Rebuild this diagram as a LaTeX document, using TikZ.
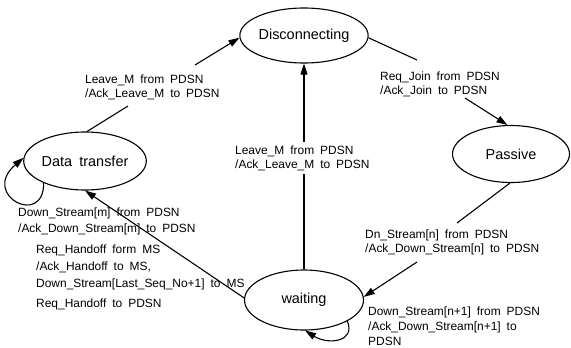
\documentclass[tikz,border=0pt]{standalone}
\usepackage{fontspec}
\setmainfont{Liberation Sans}[WordSpace=1.8]
\usetikzlibrary{arrows.meta,shapes.geometric}
\begin{document}
\begin{tikzpicture}[x=1bp,y=-1bp,
  state/.style={draw,line width=1.1bp,ellipse,inner sep=0pt,font=\fontsize{14.5}{16}\selectfont},
  lbl/.style={font=\fontsize{12}{14}\selectfont,align=left,inner sep=0pt,anchor=west},
  edge/.style={line width=1.1bp},
  tip/.style={-{Triangle[length=11bp,width=7bp]}}]
\useasboundingbox (0,0) rectangle (571,347);
% states
\node[state,minimum width=122bp,minimum height=55bp] (disc) at (304,35.5) {Disconnecting};
\node[state,minimum width=120bp,minimum height=58bp] (dt) at (85,161) {Data transfer};
\node[state,minimum width=117bp,minimum height=57bp] (passive) at (511,154) {Passive};
\node[state,minimum width=119bp,minimum height=60bp] (waiting) at (304,300) {waiting};
% labels
\node[lbl] (l1) at (85,87) {Leave\_M from PDSN\\/Ack\_Leave\_M to PDSN};
\node[lbl] (l2) at (380,84.5) {Req\_Join from PDSN\\/Ack\_Join to PDSN};
\node[lbl] (l3) at (235,158.5) {Leave\_M from PDSN\\/Ack\_Leave\_M to PDSN};
\node[lbl] (l4) at (365,242) {Dn\_Stream[n] from PDSN\\/Ack\_Down\_Stream[n] to PDSN};
\node[lbl,font=\fontsize{12}{16}\selectfont] (l5) at (18,221) {Down\_Stream[m] from PDSN\\/Ack\_Down\_Stream[m] to PDSN};
\node[lbl,font=\fontsize{12}{17}\selectfont] (l6) at (36,277) {Req\_Handoff form MS\\/Ack\_Handoff to MS,\\Down\_Stream[Last\_Seq\_No+1] to MS\\[3bp]Req\_Handoff to PDSN};
\node[lbl,font=\fontsize{12}{15}\selectfont] (l7) at (368,326.5) {Down\_Stream[n+1] from PDSN\\/Ack\_Down\_Stream[n+1] to\\PDSN};
% connector break points
\coordinate (c1a) at (128,106);
\coordinate (c1b) at (195,65);
\coordinate (c2a) at (417,60);
\coordinate (c2b) at (465,98);
\coordinate (c3a) at (304,174);
\coordinate (c3b) at (304,142);
\coordinate (c4a) at (457,223);
\coordinate (c4b) at (417,262);
% connectors
\draw[edge] (dt.86) -- (c1a);
\draw[edge,tip] (c1b) -- (disc.182);
\draw[edge] (disc.-2) -- (c2a);
\draw[edge,tip] (c2b) -- (passive.97);
\draw[edge] (waiting.north) -- (c3a);
\draw[edge,tip] (c3b) -- (disc.south);
\draw[edge] (passive.268) -- (c4a);
\draw[edge,tip] (c4b) -- (waiting.3);
\draw[edge,tip] (waiting.178) -- (dt.south);
% self loops
\draw[edge,tip] (dt.208) .. controls (44,228) and (-20,195) .. (dt.177);
\draw[edge,tip] (waiting.-26) .. controls (356,342) and (328,345) .. (waiting.-88);
\end{tikzpicture}
\end{document}
